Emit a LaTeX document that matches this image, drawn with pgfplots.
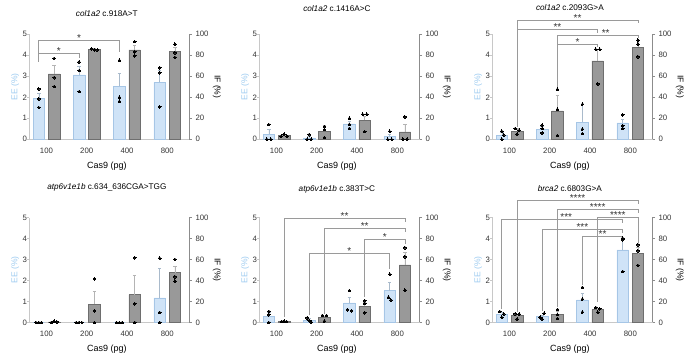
\documentclass[border=0pt]{standalone}
\usepackage{fontspec}
\setmainfont{Liberation Sans}
\usepackage{pgfplots}
\pgfplotsset{compat=1.18}
\definecolor{eefill}{HTML}{CFE3F7}
\definecolor{eeedge}{HTML}{A6C6E6}
\definecolor{iffill}{HTML}{999999}
\definecolor{ifedge}{HTML}{6E6E6E}
\definecolor{lgray}{HTML}{C8C8C8}
\definecolor{rgray}{HTML}{8C8C8C}
\definecolor{brkc}{HTML}{9A9A9A}
\definecolor{eeerr}{HTML}{A9BACB}
\definecolor{iferr}{HTML}{B4B4B4}
\definecolor{eelab}{HTML}{9DCBF0}
\definecolor{tickc}{HTML}{333333}
\definecolor{starc}{HTML}{333333}
\pgfplotsset{
  base/.style={scale only axis, width=160pt, height=105pt, xmin=-0.42, xmax=3.55,
    anchor=south west, clip=false, tick align=outside, major tick length=2.5pt,
    /pgf/number format/assume math mode=true,
    ticklabel style={font=\fontsize{7.8}{9}\selectfont, text=tickc},
    label style={font=\fontsize{8.5}{10}\selectfont}},
  eeax/.style={base, ymin=0, ymax=5, ytick={0,1,2,3,4,5},
    axis y line*=left, axis x line*=bottom,
    xtick={0,1,2,3}, xticklabels={100,200,400,800}, x tick style={draw=none},
    xticklabel style={yshift=-3pt}, yticklabel style={xshift=3.5pt},
    x axis line style={lgray}, y axis line style={lgray}, y tick style={lgray},
    xlabel={Cas9 (pg)}, ylabel={EE (\%)},
    xlabel style={at={(axis description cs:0.4836,0)}, anchor=center, yshift=-27pt, font=\fontsize{9}{10}\selectfont},
    ylabel style={at={(axis description cs:-0.089,0.5)}, anchor=center, text=eelab},
    title style={at={(axis description cs:0.4836,1)}, anchor=center, font=\fontsize{8.2}{9.6}\selectfont}},
  ifax/.style={base, ymin=0, ymax=100, ytick={0,20,...,100},
    axis y line*=right, axis x line=none,
    y axis line style={rgray}, y tick style={rgray}, ylabel={IF (\%)},
    ylabel style={at={(axis description cs:1.171,0.5)}, anchor=center, rotate=180}},
  eebar/.style={ybar, bar width=0.285, bar shift=0pt, fill=eefill, draw=eeedge, line width=0.5pt,
    error bars/.cd, y dir=plus, y explicit,
    error bar style={eeerr, line width=0.5pt},
    error mark options={rotate=90, mark size=1.8pt, eeerr, line width=0.5pt}},
  ifbar/.style={ybar, bar width=0.285, bar shift=0pt, fill=iffill, draw=ifedge, line width=0.5pt,
    error bars/.cd, y dir=plus, y explicit,
    error bar style={iferr, line width=0.5pt},
    error mark options={rotate=90, mark size=1.8pt, iferr, line width=0.5pt}},
  dots/.style={only marks, mark=*, mark size=1.35pt, mark options={fill=black, draw=black, line width=0pt}},
}
\tikzset{brk/.style={draw=brkc, line width=0.6pt}}
% \br{xL}{yL}{xR}{yR}{ytop}{label}[star x]
\newcommand{\br}[7][]{%
  \draw[brk] (axis cs:#2,#3) -- (axis cs:#2,#6) -- (axis cs:#4,#6) -- (axis cs:#4,#5);
  \path (axis cs:#2,#6) -- (axis cs:#4,#6) node[midway, anchor=base, yshift=-1.2pt, inner sep=0pt,
     font=\fontsize{10}{10}\selectfont, text=starc, #1]{#7};}
\begin{document}
\begin{tikzpicture}
\useasboundingbox (0,0) rectangle (685pt,353pt);
% ---------- Panel 1 ----------
\begin{axis}[eeax, at={(29.5pt,213.7pt)}, title={\textit{col1a2} c.918A>T}, title style={yshift=15pt}]
\addplot[eebar] coordinates {(-0.19,1.95) +- (0,0.24) (0.81,3.07) +- (0,0.39) (1.81,2.52) +- (0,0.62) (2.81,2.71) +- (0,0.56)};
\addplot[dots] coordinates {(-0.19,2.40)(-0.19,1.92)(-0.19,1.52)(0.81,3.68)(0.81,3.27)(0.81,2.27)(1.81,3.76)(1.81,2.00)(1.81,1.81)(2.81,3.41)(2.81,3.17)(2.81,1.54)};
\br{-0.19}{3.70}{1.81}{4.17}{4.70}{*}
\br{-0.19}{3.70}{0.81}{3.87}{4.10}{*}
\end{axis}
\begin{axis}[ifax, at={(29.5pt,213.7pt)}]
\addplot[ifbar] coordinates {(0.19,62.2) +- (0,8.0) (1.19,85.5) +- (0,1.2) (2.19,85.2) +- (0,4.0) (3.19,83.7) +- (0,3.6)};
\addplot[dots] coordinates {(0.19,77.0)(0.19,58.7)(0.19,50.2)(1.12,86.3)(1.19,85.1)(1.26,85.1)(2.19,93.0)(2.19,83.2)(2.19,79.4)(3.19,90.5)(3.19,82.5)(3.19,78.0)};
\end{axis}
% ---------- Panel 2 ----------
\begin{axis}[eeax, at={(259.5pt,213.7pt)}, title={\textit{col1a2} c.1416A>C}, title style={yshift=20pt}]
\addplot[eebar] coordinates {(-0.19,0.23) +- (0,0.25) (0.81,0.07) +- (0,0.06) (1.81,0.74) +- (0,0.13) (2.81,0.13) +- (0,0.11)};
\addplot[dots] coordinates {(-0.19,0.70)(-0.24,0)(-0.14,0)(0.81,0.22)(0.76,0)(0.86,0)(1.81,1.00)(1.81,0.71)(1.81,0.52)(2.81,0.38)(2.76,0)(2.86,0)};
\end{axis}
\begin{axis}[ifax, at={(259.5pt,213.7pt)}]
\addplot[ifbar] coordinates {(0.19,3.5) +- (0,0.6) (1.19,7.6) +- (0,6.0) (2.19,18.3) +- (0,3.3) (3.19,7.1) +- (0,7.2)};
\addplot[dots] coordinates {(0.12,2.9)(0.19,4.8)(0.26,2.9)(1.19,12.0)(1.19,9.2)(1.19,1.6)(2.14,23.8)(2.24,23.8)(2.19,7.3)(3.19,21.3)(3.14,0)(3.24,0)};
\end{axis}
% ---------- Panel 3 ----------
\begin{axis}[eeax, at={(492.5pt,213.7pt)}, title={\textit{col1a2} c.2093G>A}, title style={yshift=21pt}]
\addplot[eebar] coordinates {(-0.19,0.19) +- (0,0.13) (0.81,0.49) +- (0,0.11) (1.81,0.81) +- (0,0.86) (2.81,0.78) +- (0,0.17)};
\addplot[dots] coordinates {(-0.19,0.38)(-0.14,0.20)(-0.19,0.0)(0.81,0.67)(0.81,0.51)(0.81,0.30)(1.81,1.67)(1.81,0.48)(1.81,0.27)(2.81,1.16)(2.81,0.65)(2.81,0.52)};
\br{0.19}{0.60}{3.19}{5.52}{5.67}{**}
\br{0.19}{0.60}{2.19}{5.05}{5.24}{**}
\br[xshift=8pt]{1.19}{2.48}{3.19}{4.81}{4.95}{**}
\br{1.19}{2.48}{2.19}{4.38}{4.52}{*}
\end{axis}
\begin{axis}[ifax, at={(492.5pt,213.7pt)}]
\addplot[ifbar] coordinates {(0.19,7.9) +- (0,2.6) (1.19,27.0) +- (0,14.6) (2.19,74.6) +- (0,11.1) (3.19,87.9) +- (0,6.1)};
\addplot[dots] coordinates {(0.14,10.2)(0.24,8.6)(0.19,4.8)(1.19,47.6)(1.19,28.6)(1.19,3.5)(2.14,85.7)(2.24,85.7)(2.19,52.7)(3.19,94.3)(3.19,90.5)(3.19,78.7)};
\end{axis}
% ---------- Panel 4 ----------
\begin{axis}[eeax, at={(29.5pt,30.5pt)}, title={\textit{atp6v1e1b} c.634\_636CGA>TGG}, title style={yshift=24.5pt}]
\addplot[eebar] coordinates {(-0.19,0) +- (0,0) (0.81,0) +- (0,0) (1.81,0) +- (0,0) (2.81,1.17) +- (0,1.39)};
\addplot[dots] coordinates {(-0.26,0)(-0.19,0)(-0.12,0)(0.74,0)(0.81,0)(0.88,0)(1.74,0)(1.81,0)(1.88,0)(2.81,3.07)(2.81,0.48)(2.81,0)};
\end{axis}
\begin{axis}[ifax, at={(29.5pt,30.5pt)}]
\addplot[ifbar] coordinates {(0.19,0.5) +- (0,0.3) (1.19,17.6) +- (0,12.1) (2.19,26.5) +- (0,18.5) (3.19,47.6) +- (0,6.4)};
\addplot[dots] coordinates {(0.12,0)(0.19,1.2)(0.26,0.6)(1.19,41.5)(1.19,11.2)(1.19,0)(2.19,61.7)(2.19,17.9)(2.19,0)(3.19,60.0)(3.19,43.5)(3.19,39.3)};
\end{axis}
% ---------- Panel 5 ----------
\begin{axis}[eeax, at={(259.5pt,30.5pt)}, title={\textit{atp6v1e1b} c.383T>C}, title style={yshift=22pt}]
\addplot[eebar] coordinates {(-0.19,0.30) +- (0,0.17) (0.81,0.11) +- (0,0.10) (1.81,0.93) +- (0,0.25) (2.81,1.52) +- (0,0.41)};
\addplot[dots] coordinates {(-0.19,0.53)(-0.19,0.37)(-0.19,0.0)(0.76,0.22)(0.81,0.10)(0.86,0.02)(1.81,1.52)(1.76,0.61)(1.86,0.56)(2.81,2.30)(2.78,1.20)(2.84,1.07)};
\br{0.19}{0.25}{3.19}{4.78}{4.96}{**}
\br{1.19}{0.42}{3.19}{4.30}{4.48}{**}
\br{2.19}{1.21}{3.19}{3.75}{3.97}{*}
\br{0.81}{0.34}{2.81}{2.55}{3.29}{*}
\end{axis}
\begin{axis}[ifax, at={(259.5pt,30.5pt)}]
\addplot[ifbar] coordinates {(0.19,1.1) +- (0,0.1) (1.19,4.9) +- (0,1.3) (2.19,15.6) +- (0,3.3) (3.19,54.8) +- (0,12.0)};
\addplot[dots] coordinates {(0.13,1.0)(0.19,1.3)(0.25,1.0)(1.14,6.7)(1.24,6.7)(1.19,1.3)(2.19,20.8)(2.19,18.2)(2.19,9.3)(3.19,71.2)(3.19,62.6)(3.19,30.7)};
\end{axis}
% ---------- Panel 6 ----------
\begin{axis}[eeax, at={(492.5pt,30.5pt)}, title={\textit{brca2} c.6803G>A}, title style={yshift=23pt}]
\addplot[eebar] coordinates {(-0.19,0.39) +- (0,0.08) (0.81,0.28) +- (0,0.08) (1.81,1.08) +- (0,0.32) (2.81,3.46) +- (0,0.53)};
\addplot[dots] coordinates {(-0.24,0.52)(-0.14,0.40)(-0.19,0.25)(0.86,0.44)(0.76,0.25)(0.81,0.16)(1.81,1.67)(1.81,1.11)(1.81,0.49)(2.81,4.02)(2.81,3.94)(2.81,2.43)};
\br{0.19}{0.52}{3.19}{5.62}{5.80}{****}
\br{1.19}{0.72}{3.19}{5.23}{5.41}{****}
\br[xshift=4pt]{-0.19}{0.62}{2.81}{4.73}{4.91}{***}
\br{2.19}{1.00}{3.19}{3.80}{5.03}{****}
\br{0.81}{0.55}{2.81}{4.28}{4.46}{***}
\br{1.81}{1.80}{2.81}{4.05}{4.10}{**}
\end{axis}
\begin{axis}[ifax, at={(492.5pt,30.5pt)}]
\addplot[ifbar] coordinates {(0.19,6.5) +- (0,1.6) (1.19,7.9) +- (0,2.4) (2.19,12.3) +- (0,1.4) (3.19,65.5) +- (0,6.5)};
\addplot[dots] coordinates {(0.14,8.3)(0.24,8.0)(0.19,3.2)(1.19,12.4)(1.19,7.6)(1.19,3.8)(2.14,14.3)(2.24,13.0)(2.19,9.8)(3.19,74.0)(3.19,68.3)(3.19,54.3)};
\end{axis}
\end{tikzpicture}
\end{document}
